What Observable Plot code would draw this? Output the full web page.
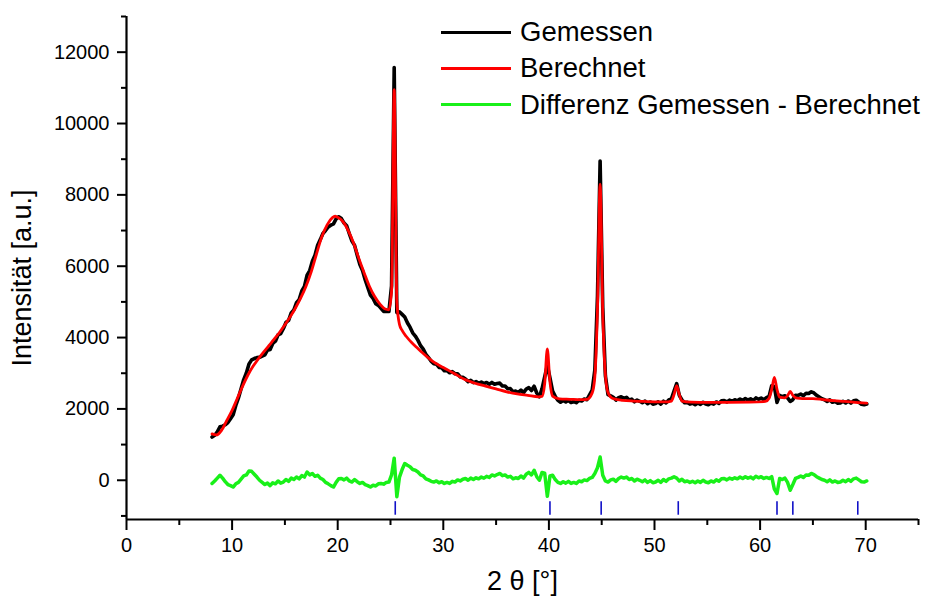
<!DOCTYPE html>
<html><head><meta charset="utf-8">
<script src="https://cdn.jsdelivr.net/npm/d3@7"></script>
<script src="https://cdn.jsdelivr.net/npm/@observablehq/plot@0.6"></script>
<style>
body{margin:0;background:#fff;font-family:"Liberation Sans",Arial,sans-serif;}
#wrap{position:relative;width:928px;height:600px;}
#legend{position:absolute;left:441px;top:14px;}
.row{position:relative;height:36.3px;line-height:36.3px;font-size:27.5px;white-space:nowrap;color:#000;}
.sw{position:absolute;left:0;top:16.7px;width:70px;height:3px;}
.lab{position:absolute;left:79px;top:0;}
</style></head><body><div id="wrap"></div>
<script>
// 2θ sampling of the measured pattern
const start = 8.1, step = 0.25;

// Gemessen (measured intensity), one row per degree 2θ
const gemessen = [
1210,1260,1356,1500, 1516,1556,1616,1726, 1838,2098,2308,2568, 2822,3007,3260,3375,
3412,3437,3448,3483, 3516,3646,3666,3836, 3898,4073,4112,4247, 4424,4484,4690,4775,
4976,5066,5306,5431, 5752,5877,6140,6310, 6586,6746,6916,7001, 7100,7150,7186,7328,
7386,7336,7210,7135, 6910,6705,6584,6309, 6050,5880,5624,5404, 5192,5097,4948,4903,
4822,4732,4734,4730, 5450,11570,4700,4720, 4650,4574,4416,4291, 4132,4042,3922,3772,
3675,3532,3440,3337, 3264,3254,3164,3154, 3069,3072,3014,3047, 2986,2986,2896,2886,
2840,2765,2800,2735, 2764,2719,2754,2709, 2742,2692,2742,2692, 2712,2722,2642,2642,
2564,2569,2484,2499, 2466,2526,2456,2556, 2596,2516,2636,2446, 2338,2570,2900,3230,
2870,2500,2351,2240, 2189,2237,2194,2242, 2179,2207,2174,2242, 2222,2276,2260,2392,
2530,3090,5150,8950, 4840,2930,2400,2366, 2324,2249,2314,2339, 2298,2323,2248,2273,
2199,2247,2214,2172, 2219,2147,2194,2132, 2150,2198,2137,2216, 2169,2250,2280,2500,
2710,2380,2250,2172, 2183,2135,2160,2119, 2168,2128,2187,2136, 2115,2165,2135,2195,
2155,2225,2235,2195, 2245,2216,2257,2227, 2278,2238,2289,2250, 2281,2235,2308,2271,
2305,2258,2316,2350, 2650,2630,2180,2380, 2340,2370,2310,2210, 2260,2380,2378,2413,
2370,2440,2430,2480, 2447,2380,2332,2285, 2257,2210,2252,2185, 2208,2163,2168,2213,
2168,2221,2165,2229, 2243,2187,2131,2116, 2140
];

// Differenz Gemessen - Berechnet, same sampling
const differenz = [
-90,-20,60,140, 60,-40,-120,-150, -190,-100,-60,30, 120,150,260,250,
170,90,0,-60, -120,-80,-150,-70, -100,-20,-80,-50, 20,-30,60,20,
90,40,130,90, 230,150,190,110, 140,60,20,-60, -100,-150,-190,-60,
40,50,10,60, -20,-50,20,-40, -90,-60,-120,-150, -190,-140,-160,-100,
-90,-110,-60,-50, 150,620,-460,90, 300,470,420,380, 300,280,230,150,
120,40,10,-30, -50,-20,-70,-40, -90,-60,-90,-30, -50,10,-20,30,
50,0,60,20, 70,40,90,60, 110,80,150,120, 160,190,130,150,
90,110,40,70, 50,120,60,170, 220,150,280,100, 0,220,200,-450,
120,140,20,-60, -90,-40,-80,-30, -90,-60,-90,-20, -40,10,-10,50,
80,190,350,650, 140,-20,-50,10, 30,-30,50,90, 60,90,20,50,
-20,30,0,-40, 10,-60,-10,-70, -50,0,-60,20, -30,40,60,100,
60,-20,30,-40, -20,-60,-30,-70, -20,-60,0,-50, -70,-20,-50,10,
-30,40,50,10, 60,30,70,40, 90,50,100,60, 90,40,110,70,
100,50,80,50, 100,-250,-370,50, 20,60,-60,-280, -120,50,80,120,
80,150,140,190, 160,100,60,20, 0,-40,10,-50, -20,-60,-50,0,
-40,20,-30,40, 60,10,-40,-50, -20
];

// Berechnet (calculated profile)
const berechnetX = [8.1,8.5,9.0,9.5,10.0,10.5,11.0,11.5,12.0,12.5,13.0,13.5,14.0,14.5,15.0,15.5,16.0,16.5,17.0,17.5,18.0,18.5,19.0,19.5,19.75,20.0,20.5,21.0,21.5,22.0,22.5,23.0,23.5,24.0,24.5,24.85,25.1,25.35,25.6,25.85,26.1,26.5,27.0,27.5,28.0,29.0,30.0,31.0,32.0,33.0,34.0,35.0,36.0,37.0,38.0,39.0,39.35,39.6,39.85,40.1,40.35,41.0,42.0,43.0,43.6,44.1,44.35,44.6,44.85,45.1,45.35,45.6,46.0,47.0,48.0,49.0,50.0,51.0,51.6,51.85,52.1,52.35,52.6,53.5,55.0,57.0,59.0,60.5,60.85,61.1,61.35,61.6,61.85,62.35,62.6,62.85,63.1,63.5,64.0,65.0,66.0,67.0,68.0,69.0,70.1];
const berechnetY = [1300,1270,1400,1680,1960,2300,2640,2950,3200,3410,3600,3780,3960,4150,4360,4580,4830,5110,5440,5850,6350,6830,7160,7360,7400,7370,7250,7000,6650,6220,5820,5440,5150,4940,4800,4780,5300,10950,5000,4370,4200,4030,3860,3720,3580,3330,3160,3000,2830,2720,2640,2560,2480,2420,2380,2340,2350,2700,3680,2750,2360,2280,2270,2260,2270,2450,2900,4800,8300,4700,2950,2450,2300,2240,2220,2210,2200,2195,2220,2400,2650,2400,2220,2190,2185,2185,2190,2210,2300,2550,2880,2550,2330,2310,2370,2490,2380,2300,2290,2290,2260,2230,2210,2185,2160];

// Reflection positions (blue markers)
const reflexe = [25.45, 40.1, 44.95, 52.25, 61.6, 63.1, 69.25];

// Axes
const xDomain = [0, 75];
const yDomain = [-1100, 13000];
const xMajor = [0,10,20,30,40,50,60,70];
const xMinor = [5,15,25,35,45,55,65,75];
const yMajor = [0,2000,4000,6000,8000,10000,12000];
const yMinor = [-1000,1000,3000,5000,7000,9000,11000,13000];

const seriesNames = ["Gemessen","Berechnet","Differenz Gemessen - Berechnet"];
const seriesColors = ["#000000","#ff0000","#19f019"];

const gemData = gemessen.map((v,i)=>({x:+(start+i*step).toFixed(2), y:v}));
const diffData = differenz.map((v,i)=>({x:+(start+i*step).toFixed(2), y:v}));
const berData = berechnetX.map((x,i)=>({x, y:berechnetY[i]}));

const font = "Liberation Sans, Arial, sans-serif";

const chart = Plot.plot({
  width: 928, height: 600,
  marginLeft: 126, marginRight: 10, marginTop: 16, marginBottom: 81,
  style: {fontFamily: font, background: "white", color: "black"},
  x: {domain: xDomain},
  y: {domain: yDomain},
  marks: [
    Plot.line(gemData, {x:"x", y:"y", stroke: seriesColors[0], strokeWidth: 3.6, strokeLinejoin:"round"}),
    Plot.line(berData, {x:"x", y:"y", stroke: seriesColors[1], strokeWidth: 2.8, curve:"monotone-x"}),
    Plot.line(diffData, {x:"x", y:"y", stroke: seriesColors[2], strokeWidth: 3.5, strokeLinejoin:"round"}),
    Plot.ruleX(reflexe, {y1: -600, y2: -980, stroke: "#1010c8", strokeWidth: 1.6}),
    Plot.ruleX([xDomain[0]], {stroke:"black", strokeWidth: 2.2}),
    Plot.ruleY([yDomain[0]], {stroke:"black", strokeWidth: 2.2}),
    Plot.axisY({ticks: yMajor, tickSize: 9, tickPadding: 8, strokeWidth: 2, fontSize: 20, tickFormat: d => String(d), label: null}),
    Plot.axisY({ticks: yMinor, tickSize: 5, strokeWidth: 2, tickFormat: () => "", label: null}),
    Plot.axisX({ticks: xMajor, tickSize: 11, tickPadding: 7, strokeWidth: 2, fontSize: 20, tickFormat: d => String(d), label: null}),
    Plot.axisX({ticks: xMinor, tickSize: 6, strokeWidth: 2, tickFormat: () => "", label: null}),
    Plot.text(["Intensität [a.u.]"], {text: d => d, frameAnchor: "left", textAnchor: "middle", lineAnchor: "middle", rotate: -90, dx: -104, dy: 10, fontSize: 27, fill: "black"}),
    Plot.text(["2 θ [°]"], {text: d => d, frameAnchor: "bottom", textAnchor: "middle", lineAnchor: "middle", dy: 62, fontSize: 27, fill: "black"})
  ]
});

const wrap = document.getElementById("wrap");
wrap.appendChild(chart);

const legend = document.createElement("div");
legend.id = "legend";
seriesNames.forEach((name, i) => {
  const row = document.createElement("div");
  row.className = "row";
  const sw = document.createElement("span");
  sw.className = "sw";
  sw.style.background = seriesColors[i];
  const lab = document.createElement("span");
  lab.className = "lab";
  lab.textContent = name;
  row.appendChild(sw); row.appendChild(lab);
  legend.appendChild(row);
});
wrap.appendChild(legend);
</script>
</body></html>
